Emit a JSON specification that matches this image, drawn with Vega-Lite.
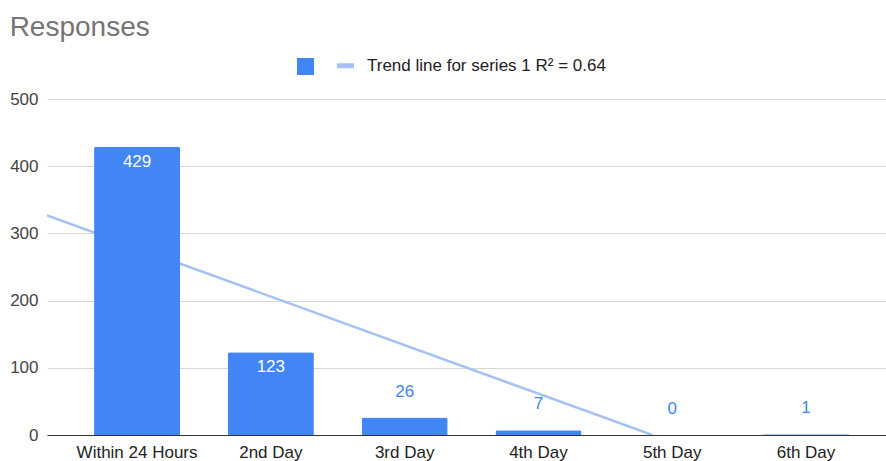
{
  "$schema": "https://vega.github.io/schema/vega-lite/v6.json",
  "autosize": {"type": "none"},
  "width": 839,
  "height": 336,
  "padding": {"left": 47, "top": 99, "right": 0, "bottom": 26},
  "background": "white",
  "title": {"text": "Responses", "anchor": "start", "frame": "bounds", "fontSize": 28, "font": "Liberation Sans", "fontWeight": "normal", "color": "#757575", "offset": 15},
  "config": {
    "view": {"stroke": null},
    "font": "Liberation Sans"
  },
  "datasets": {
    "bars": [
      {"category": "Within 24 Hours", "responses": 429},
      {"category": "2nd Day", "responses": 123},
      {"category": "3rd Day", "responses": 26},
      {"category": "4th Day", "responses": 7},
      {"category": "5th Day", "responses": 0},
      {"category": "6th Day", "responses": 1}
    ],
    "trend": [
      {"pos": 0.327, "value": 326.85},
      {"pos": 4.852, "value": 0}
    ]
  },
  "layer": [
    {
      "data": {"name": "trend"},
      "mark": {"type": "line", "strokeWidth": 2.5, "clip": true},
      "encoding": {
        "x": {"field": "pos", "type": "quantitative", "scale": {"domain": [0.327, 6.598], "nice": false, "zero": false}, "axis": null},
        "y": {"field": "value", "type": "quantitative"},
        "color": {"datum": "Trend line for series 1 R² = 0.64"}
      }
    },
    {
      "data": {"name": "bars"},
      "layer": [
        {
          "mark": {"type": "bar", "cornerRadiusTopLeft": 2, "cornerRadiusTopRight": 2},
          "encoding": {
            "color": {"datum": "Responses"}
          }
        },
        {
          "transform": [{"filter": "datum.responses > 50"}],
          "mark": {"type": "text", "color": "white", "fontSize": 17, "baseline": "middle", "dy": 15},
          "encoding": {"text": {"field": "responses", "type": "quantitative"}}
        },
        {
          "transform": [{"filter": "datum.responses <= 50"}],
          "mark": {"type": "text", "color": "#4285F4", "fontSize": 17, "baseline": "middle", "dy": -26},
          "encoding": {"text": {"field": "responses", "type": "quantitative"}}
        }
      ],
      "encoding": {
        "x": {
          "field": "category", "type": "nominal", "sort": null,
          "scale": {"paddingInner": 0.357, "paddingOuter": 0.314, "align": 0.56},
          "axis": {"title": null, "labelAngle": 0, "labelFontSize": 17, "labelColor": "#222", "labelPadding": 9, "ticks": false, "domainColor": "#333", "domainWidth": 1, "grid": false}
        },
        "y": {
          "field": "responses", "type": "quantitative",
          "scale": {"domain": [0, 500], "nice": false},
          "axis": {"title": null, "values": [0, 100, 200, 300, 400, 500], "labelFontSize": 17, "labelColor": "#444", "labelPadding": 9, "ticks": false, "domain": false, "gridColor": "#d6d6d6", "gridWidth": 1}
        }
      }
    }
  ],
  "encoding": {
    "color": {
      "type": "nominal",
      "scale": {"domain": ["Responses", "Trend line for series 1 R² = 0.64"], "range": ["#4285F4", "#A4C2F4"]},
      "legend": {
        "orient": "none", "legendX": 250, "legendY": -42, "direction": "horizontal", "title": null,
        "labelExpr": "datum.value == 'Responses' ? '' : datum.value",
        "symbolSize": 289, "labelFontSize": 17, "labelColor": "#222", "labelOffset": 13, "labelLimit": 400, "columnPadding": 0, "padding": 0,
        "encode": {"symbols": {"update": {
          "shape": {"signal": "datum.value == 'Responses' ? 'square' : 'stroke'"},
          "fill": {"signal": "datum.value == 'Responses' ? '#4285F4' : 'transparent'"},
          "stroke": {"signal": "datum.value == 'Responses' ? '#4285F4' : '#A4C2F4'"},
          "strokeWidth": {"signal": "datum.value == 'Responses' ? 0 : 5"},
          "opacity": {"value": 1}
        }}}
      }
    }
  },
  "resolve": {"scale": {"x": "independent"}}
}
